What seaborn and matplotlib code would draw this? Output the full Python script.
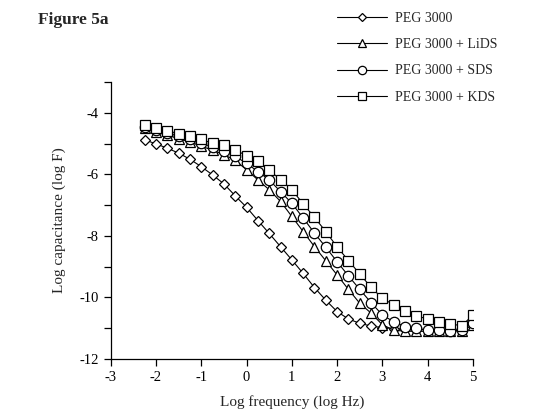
import pandas as pd
import matplotlib
matplotlib.use('Agg')
import matplotlib.pyplot as plt
import seaborn as sns

sns.set_style('ticks')
plt.rcParams['font.family'] = ['Liberation Serif', 'DejaVu Serif']
plt.rcParams['axes.unicode_minus'] = False

# log frequency (log Hz)
log_freq = [-2.25, -2.0, -1.75, -1.5, -1.25, -1.0, -0.75, -0.5, -0.25, 0.0,
            0.25, 0.5, 0.75, 1.0, 1.25, 1.5, 1.75, 2.0, 2.25, 2.5,
            2.75, 3.0, 3.25, 3.5, 3.75, 4.0, 4.25, 4.5, 4.75, 5.0]

# log capacitance (log F)
peg = [-4.88, -5.01, -5.15, -5.31, -5.51, -5.75, -6.02, -6.31, -6.70, -7.07,
       -7.50, -7.92, -8.35, -8.78, -9.22, -9.68, -10.09, -10.46, -10.70, -10.84,
       -10.93, -10.98, -11.01, -11.03, -11.04, -11.05, -11.05, -11.05, -11.02, -10.85]
lids = [-4.50, -4.62, -4.73, -4.84, -4.95, -5.08, -5.22, -5.36, -5.55, -5.85,
        -6.18, -6.50, -6.88, -7.37, -7.86, -8.35, -8.81, -9.27, -9.74, -10.19,
        -10.51, -10.89, -11.06, -11.10, -11.10, -11.10, -11.10, -11.10, -11.08, -10.90]
sds = [-4.45, -4.56, -4.66, -4.76, -4.86, -4.98, -5.12, -5.25, -5.42, -5.64,
       -5.91, -6.18, -6.56, -6.94, -7.42, -7.91, -8.37, -8.84, -9.30, -9.74,
       -10.17, -10.57, -10.79, -10.95, -11.00, -11.06, -11.06, -11.09, -11.06, -10.82]
kds = [-4.39, -4.50, -4.58, -4.68, -4.75, -4.86, -4.99, -5.04, -5.20, -5.40,
       -5.58, -5.87, -6.17, -6.50, -6.96, -7.40, -7.86, -8.36, -8.80, -9.24,
       -9.67, -10.03, -10.24, -10.43, -10.60, -10.70, -10.79, -10.86, -10.92, -10.57]

labels = ['PEG 3000', 'PEG 3000 + LiDS', 'PEG 3000 + SDS', 'PEG 3000 + KDS']
series = [peg, lids, sds, kds]
markers = ['D', '^', 'o', 's']
msizes = [4.6, 7, 7.5, 7]

fig = plt.figure(figsize=(5.44, 4.17), dpi=100)
ax = fig.add_axes([110.7 / 544, 1 - 359 / 417, (473 - 110.7) / 544, (359 - 82) / 417])

for lab, vals, m, ms in zip(labels, series, markers, msizes):
    df = pd.DataFrame({'x': log_freq, 'y': vals})
    sns.lineplot(data=df, x='x', y='y', ax=ax, color='black', linewidth=0.8,
                 marker=m, markersize=ms, markerfacecolor='white',
                 markeredgecolor='black', markeredgewidth=0.9, label=lab)

ax.set_xlim(-3, 5)
ax.set_ylim(-12, -3)
ax.set_xticks(range(-3, 6))
ax.set_yticks(range(-12, -2))
ax.set_yticklabels(['-12', '', '-10', '', '-8', '', '-6', '', '-4', ''])
ax.tick_params(axis='both', direction='out', length=5, width=0.9, labelsize=10.5,
               color='black', labelcolor='black')
for s in ['left', 'bottom']:
    ax.spines[s].set_color('black')
    ax.spines[s].set_linewidth(0.9)
sns.despine(ax=ax)

ax.set_xlabel('Log frequency (log Hz)', fontsize=11, labelpad=8)
ax.set_ylabel('Log capacitance (log F)', fontsize=11, labelpad=10)

ax.get_legend().remove()
h, l = ax.get_legend_handles_labels()
fig.legend(h, l, loc='upper left', bbox_to_anchor=(337 / 544, 1 - 12 / 417),
           frameon=False, fontsize=10, handlelength=3.6, handletextpad=0.6,
           labelspacing=0.95, borderaxespad=0, borderpad=0, markerscale=0.8)

fig.text(38 / 544, 1 - 20 / 417, 'Figure 5a', fontsize=12.5, fontweight='bold',
         va='center', ha='left')

plt.savefig('out.png', dpi=100)
